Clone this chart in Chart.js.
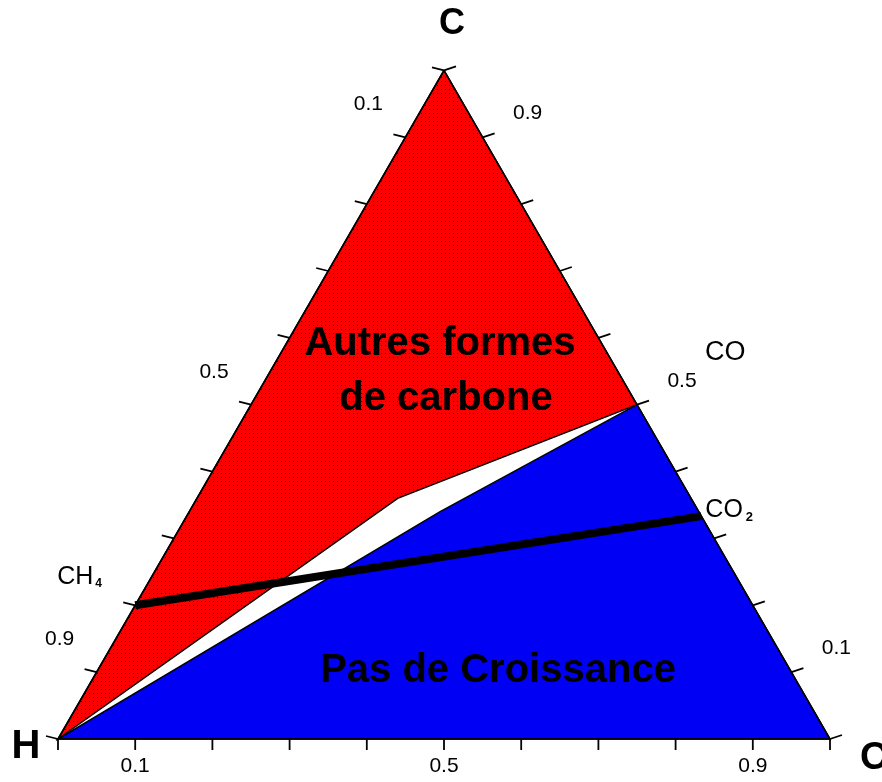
<!DOCTYPE html>
<html><head><meta charset="utf-8">
<script src="https://cdn.jsdelivr.net/npm/chart.js@4"></script>
<style>html,body{margin:0;padding:0;background:#fff;}canvas{display:block}</style>
</head><body>
<canvas id="c" width="882" height="782"></canvas>
<script>
// Compositions are given as [C, H, O] mole fractions
const autresFormesRegion = [[1,0,0],[0.5,0,0.5],[0.36,0.38,0.26],[0,1,0],[1,0,0]];
const pasDeCroissanceRegion = [[0.5,0,0.5],[0,0,1],[0,1,0],[0.34,0.335,0.325],[0.5,0,0.5]];
const ch4co2Line = [[0.2,0.8,0],[1/3,0,2/3]];
const triangleOutline = [[1,0,0],[0,0,1],[0,1,0],[1,0,0]];
const tickValues = [0,0.1,0.2,0.3,0.4,0.5,0.6,0.7,0.8,0.9,1];
const labeledTicks = [0.1,0.5,0.9];
const vertexLabels = ['C','H','O'];
const speciesPoints = {CH4:[0.2,0.8,0], CO:[0.5,0,0.5], CO2:[1/3,0,2/3]};
const redLabel = ['Autres formes','de carbone'];
const blueLabel = ['Pas de Croissance'];

const S3 = Math.sqrt(3)/2;
function toXY(p){const s=p[0]+p[1]+p[2];const c=p[0]/s,o=p[2]/s;return {x:o+c/2,y:c*S3};}
function pts(arr){return arr.map(toXY);}

// halftone pattern for red region
function redPattern(){
  const pc=document.createElement('canvas');pc.width=4;pc.height=4;
  const g=pc.getContext('2d');
  g.fillStyle='#ff0000';g.fillRect(0,0,4,4);
  g.fillStyle='#5a0000';
  g.fillRect(1,1,1,1);
  return document.getElementById('c').getContext('2d').createPattern(pc,'repeat');
}

const PX = 772; // pixels per unit
const xmin = -58/PX, xmax = (882-58)/PX, ymin = -(782-739)/PX, ymax = 739/PX;

const decor = {
  id:'ternaryDecor',
  afterDatasetsDraw(chart){
    const {ctx, scales:{x,y}} = chart;
    const P = p => {const q=toXY(p);return [x.getPixelForValue(q.x), y.getPixelForValue(q.y)];};
    const seg=(a,b,c,d)=>{ctx.beginPath();ctx.moveTo(a,b);ctx.lineTo(c,d);ctx.stroke();};
    ctx.save();
    ctx.strokeStyle='#000';ctx.lineWidth=1.8;
    tickValues.forEach(t=>{
      let [a,b]=P([0,1-t,t]); seg(a,b,a,b+11);
      [a,b]=P([1-t,t,0]); seg(a-12,b-3,a,b);
      [a,b]=P([t,0,1-t]); seg(a,b,a+12,b-4);
    });
    ctx.fillStyle='#000';
    ctx.textAlign='center';ctx.textBaseline='middle';
    ctx.font='21px "Liberation Sans", Arial, sans-serif';
    labeledTicks.forEach(t=>{
      const lab=String(t);
      let [a,b]=P([0,1-t,t]); ctx.fillText(lab,a,b+27);
      [a,b]=P([1-t,t,0]); ctx.fillText(lab,a-37,b-33);
      [a,b]=P([t,0,1-t]); ctx.fillText(lab,a+45,b-24);
    });
    // vertex labels
    ctx.font='bold 36px "Liberation Sans", Arial, sans-serif';
    let [a,b]=P([1,0,0]); ctx.fillText(vertexLabels[0],a+8,b-46);
    ctx.font='bold 40px "Liberation Sans", Arial, sans-serif';
    [a,b]=P([0,1,0]); ctx.fillText(vertexLabels[1],a-32,b+8);
    ctx.textAlign='left';
    ctx.font='bold 38px "Liberation Sans", Arial, sans-serif';
    [a,b]=P([0,0,1]); ctx.fillText(vertexLabels[2],a+30,b+20);
    // species labels
    ctx.font='25px "Liberation Sans", Arial, sans-serif';
    [a,b]=P(speciesPoints.CH4); ctx.fillText('CH',a-78,b-28);
    let w=ctx.measureText('CH').width;
    ctx.font='bold 12px "Liberation Sans", Arial, sans-serif'; ctx.fillText('4',a-78+w+2,b-22);
    ctx.font='27px "Liberation Sans", Arial, sans-serif';
    [a,b]=P(speciesPoints.CO); ctx.fillText('CO',a+68,b-52);
    ctx.font='25px "Liberation Sans", Arial, sans-serif';
    [a,b]=P(speciesPoints.CO2); ctx.fillText('CO',a+4,b-6);
    w=ctx.measureText('CO').width;
    ctx.font='bold 13px "Liberation Sans", Arial, sans-serif'; ctx.fillText('2',a+4+w+3,b+1);
    // region labels
    ctx.textAlign='center';ctx.textBaseline='alphabetic';
    ctx.font='bold 40px "Liberation Sans", Arial, sans-serif';
    ctx.fillText(redLabel[0],440,355);
    ctx.fillText(redLabel[1],446,410);
    ctx.fillText(blueLabel[0],498,682);
    ctx.restore();
  }
};

new Chart(document.getElementById('c'),{
  type:'scatter',
  data:{datasets:[
    {label:'CH4-CO2',data:pts(ch4co2Line),showLine:true,borderColor:'#000',borderWidth:8,pointRadius:0,fill:false,borderCapStyle:'butt'},
    {label:'Outline',data:pts(triangleOutline),showLine:true,borderColor:'#000',borderWidth:1.5,pointRadius:0,fill:false},
    {label:'Pas de Croissance',data:pts(pasDeCroissanceRegion),showLine:true,borderColor:'#000',borderWidth:1.5,backgroundColor:'#0000f4',pointRadius:0,fill:'shape'},
    {label:'Autres formes de carbone',data:pts(autresFormesRegion),showLine:true,borderColor:'#000',borderWidth:1.5,backgroundColor:redPattern(),pointRadius:0,fill:'shape'}
  ]},
  options:{
    responsive:false,animation:false,
    layout:{padding:0},
    plugins:{legend:{display:false},tooltip:{enabled:false}},
    scales:{
      x:{type:'linear',min:xmin,max:xmax,display:false},
      y:{type:'linear',min:ymin,max:ymax,display:false}
    }
  },
  plugins:[decor]
});
</script>
</body></html>
